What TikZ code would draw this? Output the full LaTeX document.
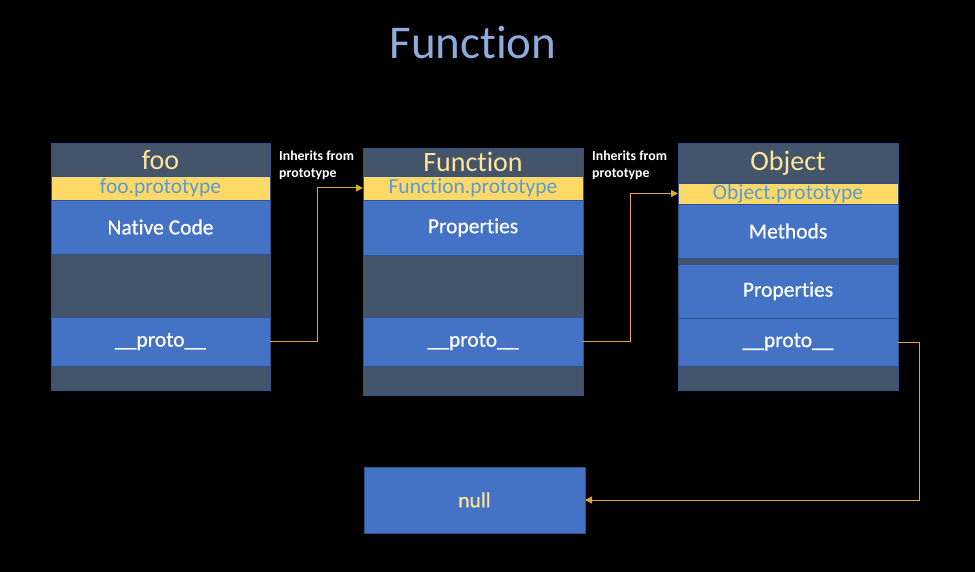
\documentclass[tikz,border=0pt]{standalone}
\usepackage{fontspec}
\setmainfont{Carlito}[Ligatures=NoCommon]
\newfontfamily\semib[FakeBold=0.6,Ligatures=NoCommon]{Carlito}
\usetikzlibrary{arrows.meta}
\definecolor{slate}{HTML}{44546A}
\definecolor{oblue}{HTML}{4472C4}
\definecolor{bord}{HTML}{2F528F}
\definecolor{oyel}{HTML}{FFD966}
\definecolor{ltyel}{HTML}{FFE699}
\definecolor{txtblue}{HTML}{5B9BD5}
\definecolor{ttl}{HTML}{8FAADC}
\definecolor{arr}{HTML}{E0A82E}
\tikzset{
  cell/.style={draw=bord, line width=0.8pt, inner sep=0pt, outer sep=0pt, anchor=north west, align=center},
  darkcell/.style={cell, fill=slate},
  bluecell/.style={cell, fill=oblue, text=white, font=\semib\fontsize{21.5}{24}\selectfont},
  yelcell/.style={cell, fill=oyel, text=txtblue, font=\fontsize{21.5}{24}\selectfont},
  titlecell/.style={darkcell, text=ltyel, font=\fontsize{28}{32}\selectfont},
  link/.style={draw=arr, line width=1pt, -{Triangle[length=7pt,width=7pt]}},
  lbl/.style={anchor=north west, align=left, text=white, inner sep=0pt, font=\bfseries\fontsize{13.8}{16.5}\selectfont}
}
\begin{document}
\begin{tikzpicture}[x=1pt,y=-1pt]
\fill[black] (0,0) rectangle (975,572);
\useasboundingbox (0,0) rectangle (975,572);

\node[text=ttl, font=\fontsize{47}{52}\selectfont, inner sep=0pt] (title) at (473,43) {Function};

% foo
\node[titlecell, minimum width=219, minimum height=33] (foo-t) at (51,143) {foo};
\node[yelcell, minimum width=219, minimum height=24] (foo-p) at (51,176) {foo.prototype};
\node[bluecell, minimum width=219, minimum height=54] (foo-n) at (51,200) {Native Code};
\node[darkcell, minimum width=219, minimum height=63] (foo-e) at (51,254) {};
\node[bluecell, minimum width=219, minimum height=49] (foo-pr) at (51,317) {\_\_proto\_\_};
\node[darkcell, minimum width=219, minimum height=24] (foo-b) at (51,366) {};

% Function
\node[titlecell, minimum width=220, minimum height=28] (fn-t) at (363,148) {Function};
\node[yelcell, minimum width=220, minimum height=24] (fn-p) at (363,176) {Function.prototype};
\node[bluecell, minimum width=220, minimum height=55] (fn-n) at (363,200) {Properties};
\node[darkcell, minimum width=220, minimum height=62] (fn-e) at (363,255) {};
\node[bluecell, minimum width=220, minimum height=49] (fn-pr) at (363,317) {\_\_proto\_\_};
\node[darkcell, minimum width=220, minimum height=29] (fn-b) at (363,366) {};

% Object
\node[titlecell, minimum width=220, minimum height=40] (ob-t) at (678,143) {Object};
\node[yelcell, minimum width=220, minimum height=21] (ob-p) at (678,183) {Object.prototype};
\node[bluecell, minimum width=220, minimum height=54] (ob-m) at (678,204) {Methods};
\node[darkcell, minimum width=220, minimum height=6] (ob-e) at (678,258) {};
\node[bluecell, minimum width=220, minimum height=54] (ob-n) at (678,264) {Properties};
\node[bluecell, minimum width=220, minimum height=48] (ob-pr) at (678,318) {\_\_proto\_\_};
\node[darkcell, minimum width=220, minimum height=24] (ob-b) at (678,366) {};

% null
\node[bluecell, text=ltyel, minimum width=221, minimum height=66] (null) at (364,467) {null};

% labels
\node[lbl] (l1) at (279,151) {Inherits from\\prototype};
\node[lbl] (l2) at (592,151) {Inherits from\\prototype};

% connectors
\draw[link] (foo-pr.east) -- ++(47,0) |- (fn-p.west);
\draw[link] (fn-pr.east) -- ++(47,0) |- (ob-p.west);
\draw[link] (ob-pr.east) -- ++(21,0) |- (null.east);
\end{tikzpicture}
\end{document}
